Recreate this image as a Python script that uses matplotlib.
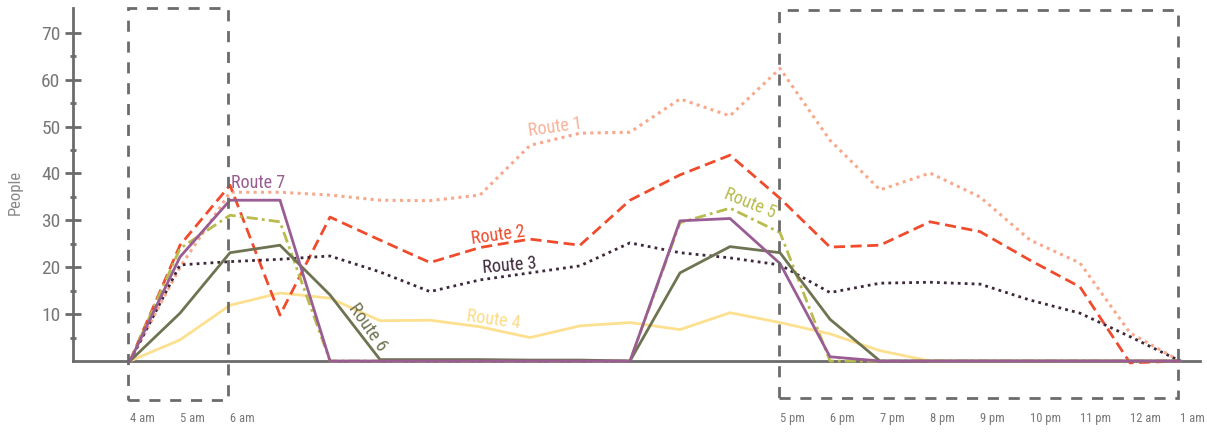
import matplotlib
matplotlib.use("Agg")
import matplotlib.pyplot as plt
from matplotlib import font_manager
from matplotlib.patches import Rectangle

# police condensée si disponible, sinon Liberation Sans
dispo = {f.name for f in font_manager.fontManager.ttflist}
police = "DejaVu Sans"
for nom in ["Liberation Sans Narrow", "Roboto Condensed", "Open Sans Condensed", "Liberation Sans"]:
    if nom in dispo:
        police = nom
        break
etroite = police != "Liberation Sans"
plt.rcParams['font.family'] = [police, 'DejaVu Sans']

# --- Données : une valeur par heure, de 4 am à 1 am ---
heures = list(range(22))  # 0 = 4 am ... 21 = 1 am
route1 = [0, 20, 36, 36, 35.4, 34.3, 34.2, 35.4, 46, 48.6, 48.8, 55.9, 52.3, 62.4,
          47.1, 36.5, 40.1, 35, 25.8, 20.9, 6, 0]
route2 = [0, 24.7, 37.5, 9.8, 30.7, 25.8, 21, 24.2, 26, 24.7, 34.3, 39.7, 43.9, 34.7,
          24.3, 24.7, 29.7, 27.6, 21.5, 15.8, -0.4, 0]
route3 = [0, 20.5, 21.2, 21.7, 22.4, 19, 14.8, 17.3, 18.8, 20.3, 25.2, 23.1, 22, 20.5,
          14.6, 16.6, 16.8, 16.4, 13, 10.2, 5.2, 0]
route4 = [0, 4.5, 11.9, 14.5, 13.4, 8.6, 8.7, 7.3, 5, 7.5, 8.2, 6.7, 10.3, 8.2,
          5.8, 2.2, 0, 0, 0, 0, 0, 0]
route5 = [0, 24, 31.1, 29.7, 0, 0, 0, 0, 0, 0, 0, 29.5, 32.6, 27.4,
          0, 0, 0, 0, 0, 0, 0, 0]
route6 = [0, 10.2, 23.1, 24.7, 14.1, 0.3, 0.3, 0.3, 0.2, 0.2, 0, 18.8, 24.4, 23.1,
          8.9, 0, 0, 0, 0, 0, 0, 0]
route7 = [0, 22.2, 34.3, 34.3, 0, 0, 0, 0, 0, 0, 0, 29.9, 30.4, 20.8,
          0.9, 0, 0, 0, 0, 0, 0, 0]

ticks_x = [0, 1, 2, 13, 14, 15, 16, 17, 18, 19, 20, 21]
labels_x = ["4 am", "5 am", "6 am", "5 pm", "6 pm", "7 pm", "8 pm", "9 pm",
            "10 pm", "11 pm", "12 am", "1 am"]

gris = "#6b6b6b"
t_route = 13 if etroite else 11
t_x = 9 if etroite else 8

fig = plt.figure(figsize=(12.07, 4.36), dpi=100)
ax = fig.add_axes([73 / 1207, 1 - 403.2 / 436, (1200 - 73) / 1207, 395.2 / 436])

# --- Courbes ---
ax.plot(heures, route1, color="#f8a98c", lw=2.2, ls=(0, (1, 1.4)), zorder=3)
ax.plot(heures, route2, color="#ef4b2c", lw=2.0, ls=(0, (4, 2)), zorder=4)
ax.plot(heures, route3, color="#3d2839", lw=2.0, ls=(0, (1, 1.5)), zorder=4)
ax.plot(heures, route4, color="#fde08f", lw=2.0, zorder=2)
ax.plot(heures, route5, color="#b9bb4d", lw=2.0, ls=(0, (4, 1.5, 1, 1.5)), zorder=4)
ax.plot(heures, route6, color="#6e7452", lw=2.0, zorder=5)
ax.plot(heures, route7, color="#995c93", lw=2.0, zorder=6)

# --- Étiquettes des routes ---
ax.text(8.5, 49.9, "Route 1", color="#f8b39a", fontsize=t_route, rotation=8, ha="center", va="center")
ax.text(7.36, 26.9, "Route 2", color="#ef4b2c", fontsize=t_route, rotation=8, ha="center", va="center")
ax.text(7.6, 20.3, "Route 3", color="#3d2839", fontsize=t_route, rotation=5, ha="center", va="center")
ax.text(7.26, 8.7, "Route 4", color="#fcdc85", fontsize=t_route, rotation=-8, ha="center", va="center")
ax.text(12.4, 33.7, "Route 5", color="#b9bb4d", fontsize=t_route, rotation=-22, ha="center", va="center")
ax.text(4.76, 7.2, "Route 6", color="#6e7452", fontsize=t_route, rotation=-55, ha="center", va="center")
ax.text(2.56, 38.0, "Route 7", color="#995c93", fontsize=t_route, rotation=0, ha="center", va="center")

# --- Cadres en pointillés (matin et soir) ---
ax.add_patch(Rectangle((-0.04, -8.3), 2.0, 83.6, fill=False, ec=gris, lw=2,
                       ls=(0, (4, 3.5)), clip_on=False, zorder=7))
ax.add_patch(Rectangle((12.98, -7.9), 7.98, 82.7, fill=False, ec=gris, lw=2,
                       ls=(0, (4, 3.5)), clip_on=False, zorder=7))

# --- Axes ---
ax.set_xlim(-1.14, 21.4)
ax.set_ylim(-9, 75.3)
for s in ["top", "right"]:
    ax.spines[s].set_visible(False)
ax.spines["bottom"].set_position(("data", 0))
ax.spines["left"].set_bounds(0, 75.3)
for s in ["bottom", "left"]:
    ax.spines[s].set_color(gris)
    ax.spines[s].set_linewidth(2)
    ax.spines[s].set_zorder(1)

ax.set_yticks([10, 20, 30, 40, 50, 60, 70])
ax.set_yticks([5, 15, 25, 35, 45, 55, 65], minor=True)
ax.tick_params(axis="y", which="major", direction="inout", length=12, width=2,
               color=gris, labelcolor="#777777", labelsize=14 if etroite else 12, pad=3)
ax.tick_params(axis="y", which="minor", direction="inout", length=5, width=2, color=gris)

ax.set_xticks(ticks_x, labels_x)
ax.tick_params(axis="x", length=0, pad=37, labelcolor="#777777", labelsize=t_x)
for lab in ax.get_xticklabels():
    lab.set_horizontalalignment("left")

fig.text(15 / 1207, 1 - 192 / 436, "People", rotation=90, ha="center", va="center",
         color="#888888", fontsize=12 if etroite else 10.5)

fig.savefig("out.png", dpi=100)
